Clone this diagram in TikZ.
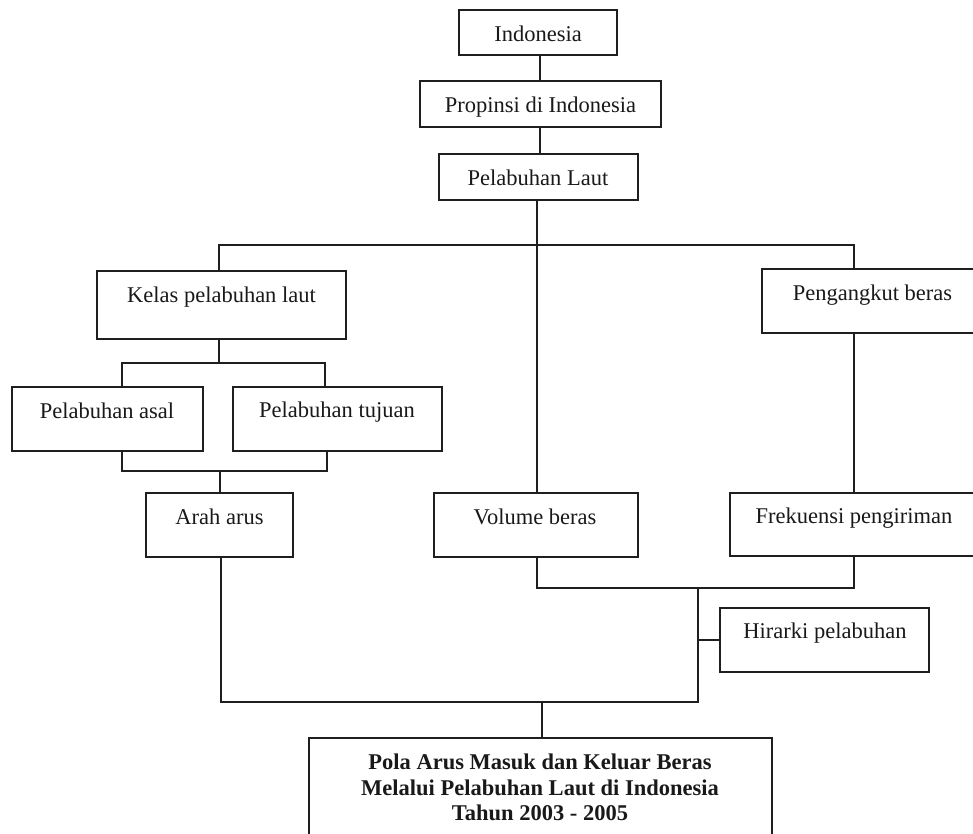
\documentclass[tikz,border=0pt]{standalone}
\usepackage{fontspec}
\setmainfont{Liberation Serif}
\begin{document}
\begin{tikzpicture}[x=1pt,y=-1pt,
  line width=1.8pt, draw=black!88,
  box/.style n args={2}{draw, rectangle, inner sep=0pt, minimum width=#1, minimum height=#2},
  txt/.style={anchor=base, inner sep=0pt, font=\fontsize{22.5}{25.5}\selectfont, text=black!90},
  btxt/.style={txt, font=\fontsize{22.5}{25.5}\selectfont\bfseries}]
\clip (0,0) rectangle (973,833);
\fill[white] (0,0) rectangle (973,833);

% boxes
\node[box={158}{45}]  (ind)    at (538,32.5)  {};
\node[box={241}{46}]  (prop)   at (540.5,104) {};
\node[box={199}{46}]  (pel)    at (538.5,177) {};
\node[box={249}{68}]  (kelas)  at (221.5,305) {};
\node[box={221}{64}]  (angkut) at (872.5,301) {};
\node[box={191}{64}]  (asal)   at (107.5,419) {};
\node[box={209}{64}]  (tujuan) at (337.5,419) {};
\node[box={147}{64}]  (arah)   at (219.5,525) {};
\node[box={204}{64}]  (vol)    at (536,525)   {};
\node[box={248}{63}]  (frek)   at (854,524.5) {};
\node[box={209}{64}]  (hir)    at (824.5,640) {};
\node[box={463}{112}] (pola)   at (540.5,794) {};

% labels
\node[txt] (ind-t)    at (538,41.5)  {Indonesia};
\node[txt] (prop-t)   at (540.5,112) {Propinsi di Indonesia};
\node[txt] (pel-t)    at (538,185)   {Pelabuhan Laut};
\node[txt] (kelas-t)  at (221.5,302) {Kelas pelabuhan laut};
\node[txt] (angkut-t) at (872.5,300) {Pengangkut beras};
\node[txt] (asal-t)   at (107,418)   {Pelabuhan asal};
\node[txt] (tujuan-t) at (337,417)   {Pelabuhan tujuan};
\node[txt] (arah-t)   at (219.5,524) {Arah arus};
\node[txt] (vol-t)    at (535,524)   {Volume beras};
\node[txt] (frek-t)   at (854,523)   {Frekuensi pengiriman};
\node[txt] (hir-t)    at (825,638)   {Hirarki pelabuhan};
\node[btxt] (pola-t1) at (540,769) {Pola Arus Masuk dan Keluar Beras};
\node[btxt] (pola-t2) at (540,795) {Melalui Pelabuhan Laut di Indonesia};
\node[btxt] (pola-t3) at (540,820) {Tahun 2003 - 2005};

% junction points
\coordinate (c1)   at (540,0);
\coordinate (busL) at (219,245);
\coordinate (busM) at (537,245);
\coordinate (busR) at (854,245);
\coordinate (k1) at (219,363);
\coordinate (kL) at (122,363);
\coordinate (kR) at (325,363);
\coordinate (aL) at (122,471);
\coordinate (aM) at (220,471);
\coordinate (aR) at (327,471);
\coordinate (vL) at (537,588);
\coordinate (vJ) at (698,588);
\coordinate (vR) at (854,588);
\coordinate (bL) at (221,702);
\coordinate (bM) at (542,702);
\coordinate (bJ) at (698,702);

% connectors
\draw (ind.south -| c1) -- (prop.north -| c1);
\draw (prop.south -| c1) -- (pel.north -| c1);
\draw (pel.south -| busM) -- (busM |- vol.north);
\draw (kelas.north -| busL) -- (busL) -- (busR) -- (busR |- angkut.north);
\draw (angkut.south -| frek.north) -- (frek.north);
\draw (kelas.south -| k1) -- (k1);
\draw (asal.north -| kL) -- (kL) -- (kR) -- (tujuan.north -| kR);
\draw (asal.south -| aL) -- (aL) -- (aR) -- (tujuan.south -| aR);
\draw (aM) -- (arah.north -| aM);
\draw (vol.south -| vL) -- (vL) -- (vR) -- (frek.south -| vR);
\draw (vJ) -- (bJ) -- (bL) -- (arah.south -| bL);
\draw (hir.west) -- (hir.west -| vJ);
\draw (bM) -- (pola.north -| bM);
\end{tikzpicture}
\end{document}
